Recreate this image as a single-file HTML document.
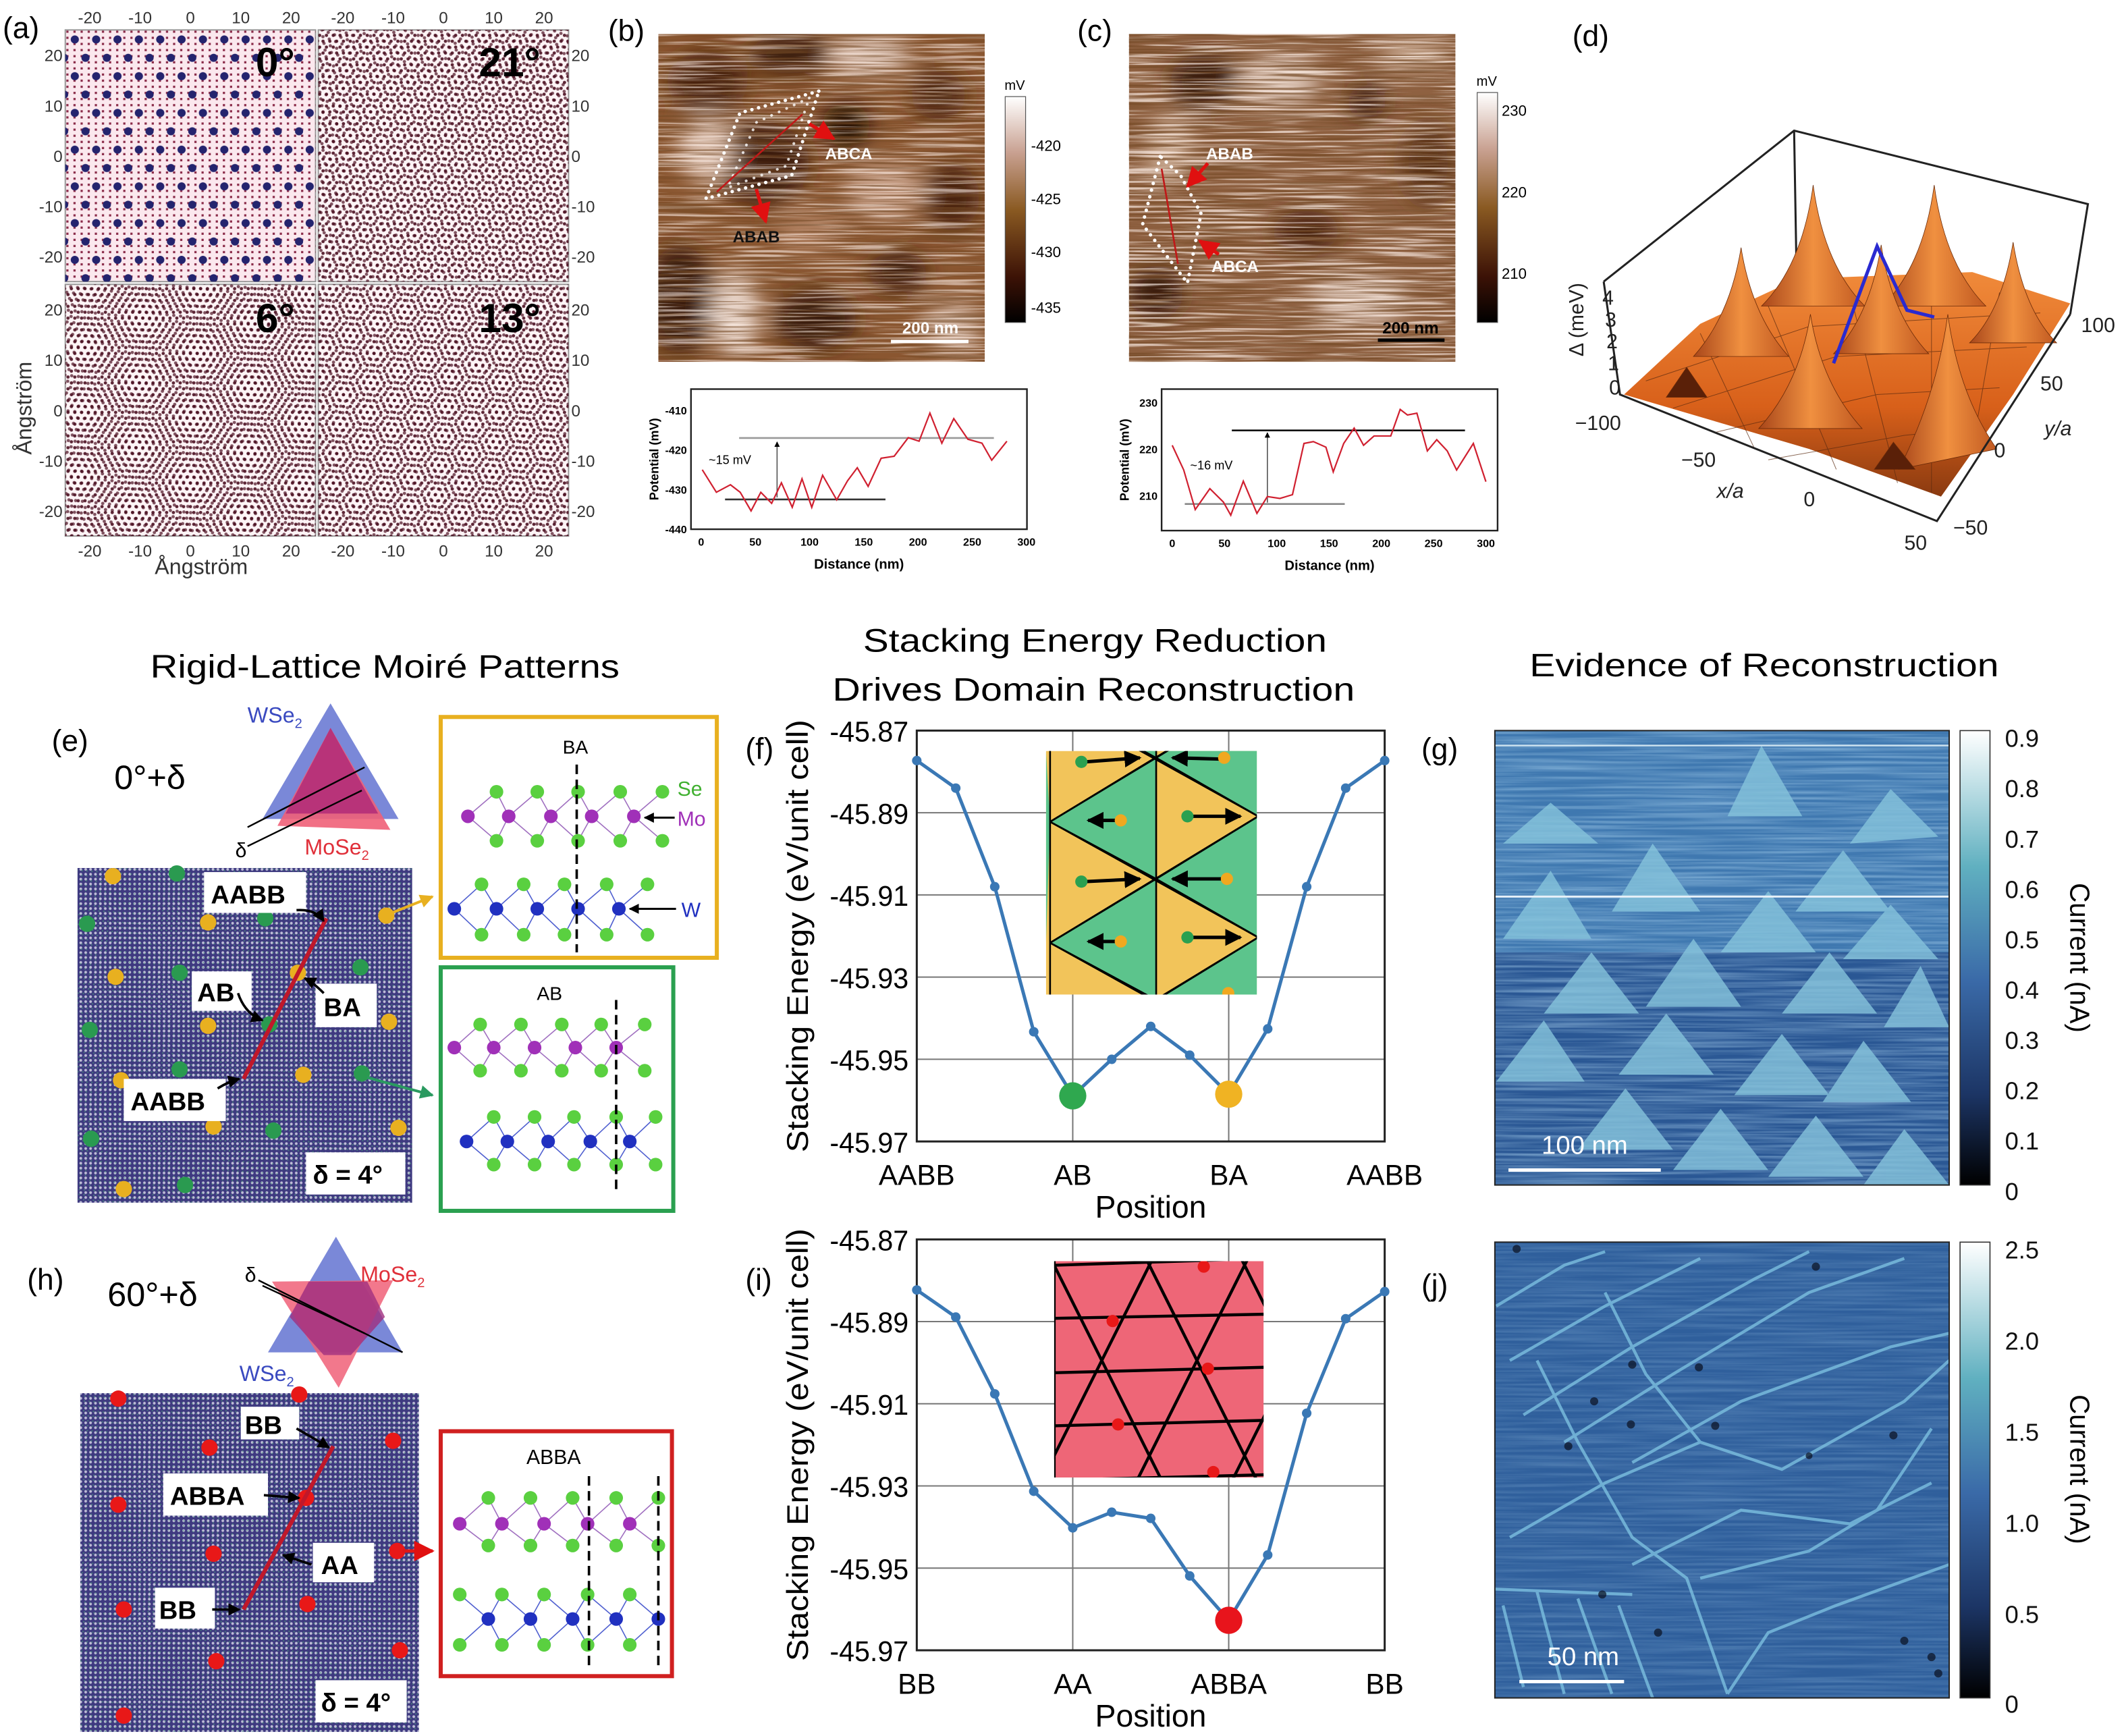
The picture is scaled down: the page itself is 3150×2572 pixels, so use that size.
<!DOCTYPE html>
<html><head><meta charset="utf-8"><title>Moiré reconstruction figure</title>
<style>
html,body{margin:0;padding:0;background:#fff;}
svg{display:block;}
text{font-family:"Liberation Sans",Arial,sans-serif;}
</style></head>
<body>
<svg id="fig" xmlns="http://www.w3.org/2000/svg" width="3150" height="2572" viewBox="0 0 1563 1276" preserveAspectRatio="none" font-family="Liberation Sans, Arial, sans-serif">
<defs>
  <pattern id="p0blue" width="15.7" height="27" patternUnits="userSpaceOnUse" x="55" y="29">
    <circle cx="0" cy="0" r="3" fill="#24246e"/><circle cx="15.7" cy="0" r="3" fill="#24246e"/>
    <circle cx="7.85" cy="13.5" r="3" fill="#24246e"/><circle cx="0" cy="27" r="3" fill="#24246e"/><circle cx="15.7" cy="27" r="3" fill="#24246e"/>
  </pattern>
  <pattern id="p0small" width="5.23" height="4.5" patternUnits="userSpaceOnUse" x="53" y="26">
    <rect x="1" y="1" width="1.6" height="1.6" fill="#8a2a48"/>
  </pattern>
  <pattern id="hexA" width="5" height="8.66" patternUnits="userSpaceOnUse">
    <circle cx="0" cy="0" r="1.2" fill="#4a0e20"/><circle cx="5" cy="0" r="1.2" fill="#4a0e20"/>
    <circle cx="2.5" cy="4.33" r="1.2" fill="#4a0e20"/><circle cx="0" cy="8.66" r="1.2" fill="#4a0e20"/><circle cx="5" cy="8.66" r="1.2" fill="#4a0e20"/>
  </pattern>
  <pattern id="hexB21" href="#hexA" patternTransform="rotate(21) translate(1.3 0.7)"/>
  <pattern id="hexB6" href="#hexA" patternTransform="rotate(6) translate(1.3 0.7)"/>
  <pattern id="hexB13" href="#hexA" patternTransform="rotate(13) translate(1.3 0.7)"/>
  <pattern id="atoms" width="3.6" height="3.6" patternUnits="userSpaceOnUse">
    <circle cx="1.8" cy="1.8" r="1.0" fill="#e8e8f4"/>
  </pattern>
  <pattern id="atoms2" width="3.6" height="3.6" patternUnits="userSpaceOnUse" patternTransform="rotate(4)">
    <circle cx="0.5" cy="0.5" r="0.6" fill="#4a9a7a" opacity="0.6"/>
  </pattern>
  <filter id="blur8" x="-50%" y="-50%" width="200%" height="200%"><feGaussianBlur stdDeviation="8"/></filter>
  <filter id="streakLight" x="0" y="0" width="1" height="1">
    <feTurbulence type="fractalNoise" baseFrequency="0.015 0.6" numOctaves="2" seed="5"/>
    <feColorMatrix type="matrix" values="0 0 0 0 1  0 0 0 0 0.88  0 0 0 0 0.82  5 0 0 0 -2.4"/>
  </filter>
  <filter id="streakDark" x="0" y="0" width="1" height="1">
    <feTurbulence type="fractalNoise" baseFrequency="0.015 0.6" numOctaves="2" seed="11"/>
    <feColorMatrix type="matrix" values="0 0 0 0 0.18  0 0 0 0 0.07  0 0 0 0 0.02  -5 0 0 0 2.6"/>
  </filter>
  <filter id="blueNoise" x="0" y="0" width="1" height="1">
    <feTurbulence type="fractalNoise" baseFrequency="0.01 0.5" numOctaves="2" seed="3" result="t"/>
    <feColorMatrix in="t" type="matrix" values="0 0 0 0 0.45  0 0 0 0 0.7  0 0 0 0 0.9  0 0 0 0.9 -0.3"/>
  </filter>
  <linearGradient id="cbBrown" x1="0" y1="1" x2="0" y2="0">
    <stop offset="0" stop-color="#000"/><stop offset="0.2" stop-color="#3c1206"/><stop offset="0.5" stop-color="#8a5a22"/><stop offset="0.75" stop-color="#c8a090"/><stop offset="1" stop-color="#fff"/>
  </linearGradient>
  <linearGradient id="cbBlue" x1="0" y1="1" x2="0" y2="0">
    <stop offset="0" stop-color="#000"/><stop offset="0.2" stop-color="#1c3565"/><stop offset="0.45" stop-color="#3a6aa8"/><stop offset="0.7" stop-color="#60b0c0"/><stop offset="1" stop-color="#fff"/>
  </linearGradient>
  <linearGradient id="orangeG" x1="0" y1="0" x2="0" y2="1">
    <stop offset="0" stop-color="#f08a3a"/><stop offset="0.6" stop-color="#d8601a"/><stop offset="1" stop-color="#8a3a10"/>
  </linearGradient>
  <linearGradient id="peakG" x1="0" y1="0" x2="1" y2="0">
    <stop offset="0" stop-color="#a8461a"/><stop offset="0.5" stop-color="#f09040"/><stop offset="1" stop-color="#c05820"/>
  </linearGradient>
  <marker id="arrK" viewBox="0 0 10 10" refX="9" refY="5" markerWidth="5" markerHeight="5" orient="auto"><path d="M0 0L10 5L0 10z" fill="#000"/></marker>
  <marker id="arrR" viewBox="0 0 10 10" refX="9" refY="5" markerWidth="6" markerHeight="6" orient="auto"><path d="M0 0L10 5L0 10z" fill="#e01010"/></marker>
  <marker id="arrY" viewBox="0 0 10 10" refX="9" refY="5" markerWidth="5" markerHeight="5" orient="auto"><path d="M0 0L10 5L0 10z" fill="#e8b020"/></marker>
  <marker id="arrG" viewBox="0 0 10 10" refX="9" refY="5" markerWidth="5" markerHeight="5" orient="auto"><path d="M0 0L10 5L0 10z" fill="#2a9a60"/></marker>
  <clipPath id="clipB"><rect x="484" y="25" width="240" height="241"/></clipPath>
  <clipPath id="clipC"><rect x="830" y="25" width="240" height="241"/></clipPath>
  <clipPath id="clipFin"><rect x="769" y="552" width="155" height="179"/></clipPath>
  <clipPath id="clipIin"><rect x="775" y="927" width="154" height="159"/></clipPath>
  <clipPath id="clipG"><rect x="1099" y="537" width="334" height="334"/></clipPath>
  <clipPath id="clipJ"><rect x="1099" y="913" width="334" height="335"/></clipPath>
</defs>

<!-- ================= (a) ================= -->
<g>
  <text x="2" y="28" font-size="22">(a)</text>
  <g>
    <rect x="48" y="22" width="184" height="185" fill="#fbe8ee" stroke="#999" stroke-width="1"/>
    <rect x="48" y="22" width="184" height="185" fill="url(#p0small)"/>
    <rect x="48" y="22" width="184" height="185" fill="url(#p0blue)"/>
    <text x="188" y="56" font-size="30" font-weight="bold">0°</text>
  </g>
  <g>
    <rect x="234" y="22" width="184" height="185" fill="#fdf4f6" stroke="#999" stroke-width="1"/>
    <rect x="234" y="22" width="184" height="185" fill="url(#hexA)" opacity="0.9"/>
    <rect x="234" y="22" width="184" height="185" fill="url(#hexB21)" opacity="0.7"/>
    <text x="352" y="56" font-size="30" font-weight="bold">21°</text>
  </g>
  <g>
    <rect x="48" y="209" width="184" height="185" fill="#fdf4f6" stroke="#999" stroke-width="1"/>
    <rect x="48" y="209" width="184" height="185" fill="url(#hexA)" opacity="0.9"/>
    <rect x="48" y="209" width="184" height="185" fill="url(#hexB6)" opacity="0.7"/>
    <text x="188" y="244" font-size="30" font-weight="bold">6°</text>
  </g>
  <g>
    <rect x="234" y="209" width="184" height="185" fill="#fdf4f6" stroke="#999" stroke-width="1"/>
    <rect x="234" y="209" width="184" height="185" fill="url(#hexA)" opacity="0.9"/>
    <rect x="234" y="209" width="184" height="185" fill="url(#hexB13)" opacity="0.7"/>
    <text x="352" y="244" font-size="30" font-weight="bold">13°</text>
  </g>
  <g font-size="12" fill="#333" font-family="Liberation Serif, serif">
    <g text-anchor="middle">
      <text x="66" y="17" font-family="Liberation Serif, serif">-20</text><text x="103" y="17" font-family="Liberation Serif, serif">-10</text><text x="140" y="17" font-family="Liberation Serif, serif">0</text><text x="177" y="17" font-family="Liberation Serif, serif">10</text><text x="214" y="17" font-family="Liberation Serif, serif">20</text>
      <text x="252" y="17" font-family="Liberation Serif, serif">-20</text><text x="289" y="17" font-family="Liberation Serif, serif">-10</text><text x="326" y="17" font-family="Liberation Serif, serif">0</text><text x="363" y="17" font-family="Liberation Serif, serif">10</text><text x="400" y="17" font-family="Liberation Serif, serif">20</text>
      <text x="66" y="409" font-family="Liberation Serif, serif">-20</text><text x="103" y="409" font-family="Liberation Serif, serif">-10</text><text x="140" y="409" font-family="Liberation Serif, serif">0</text><text x="177" y="409" font-family="Liberation Serif, serif">10</text><text x="214" y="409" font-family="Liberation Serif, serif">20</text>
      <text x="252" y="409" font-family="Liberation Serif, serif">-20</text><text x="289" y="409" font-family="Liberation Serif, serif">-10</text><text x="326" y="409" font-family="Liberation Serif, serif">0</text><text x="363" y="409" font-family="Liberation Serif, serif">10</text><text x="400" y="409" font-family="Liberation Serif, serif">20</text>
    </g>
    <g text-anchor="end">
      <text x="46" y="45" font-family="Liberation Serif, serif">20</text><text x="46" y="82" font-family="Liberation Serif, serif">10</text><text x="46" y="119" font-family="Liberation Serif, serif">0</text><text x="46" y="156" font-family="Liberation Serif, serif">-10</text><text x="46" y="193" font-family="Liberation Serif, serif">-20</text>
      <text x="46" y="232" font-family="Liberation Serif, serif">20</text><text x="46" y="269" font-family="Liberation Serif, serif">10</text><text x="46" y="306" font-family="Liberation Serif, serif">0</text><text x="46" y="343" font-family="Liberation Serif, serif">-10</text><text x="46" y="380" font-family="Liberation Serif, serif">-20</text>
    </g>
    <g text-anchor="start">
      <text x="420" y="45" font-family="Liberation Serif, serif">20</text><text x="420" y="82" font-family="Liberation Serif, serif">10</text><text x="420" y="119" font-family="Liberation Serif, serif">0</text><text x="420" y="156" font-family="Liberation Serif, serif">-10</text><text x="420" y="193" font-family="Liberation Serif, serif">-20</text>
      <text x="420" y="232" font-family="Liberation Serif, serif">20</text><text x="420" y="269" font-family="Liberation Serif, serif">10</text><text x="420" y="306" font-family="Liberation Serif, serif">0</text><text x="420" y="343" font-family="Liberation Serif, serif">-10</text><text x="420" y="380" font-family="Liberation Serif, serif">-20</text>
    </g>
  </g>
  <text x="148" y="422" font-size="16" text-anchor="middle" fill="#333">Ångström</text>
  <text transform="translate(23,300) rotate(-90)" font-size="16" text-anchor="middle" fill="#333">Ångström</text>
</g>

<!-- ================= (b) ================= -->
<g>
  <text x="447" y="30" font-size="22">(b)</text>
  <g clip-path="url(#clipB)">
    <rect x="484" y="25" width="240" height="241" fill="#8a5630"/>
    <g filter="url(#blur8)">
      <ellipse cx="520" cy="60" rx="30" ry="22" fill="#4a2410"/>
      <ellipse cx="580" cy="40" rx="30" ry="14" fill="#3a1a08"/>
      <ellipse cx="560" cy="120" rx="35" ry="30" fill="#3e1c0a"/>
      <ellipse cx="622" cy="92" rx="18" ry="16" fill="#220c04"/>
      <ellipse cx="500" cy="220" rx="25" ry="40" fill="#3a1a08"/>
      <ellipse cx="600" cy="235" rx="30" ry="22" fill="#3a1a08"/>
      <ellipse cx="660" cy="200" rx="22" ry="15" fill="#3e1c0a"/>
      <ellipse cx="700" cy="145" rx="20" ry="25" fill="#4a2410"/>
      <ellipse cx="690" cy="70" rx="20" ry="18" fill="#4a2410"/>
      <ellipse cx="640" cy="40" rx="30" ry="12" fill="#e6d0c4"/>
      <ellipse cx="520" cy="110" rx="20" ry="25" fill="#d8bcaa"/>
      <ellipse cx="540" cy="230" rx="18" ry="30" fill="#e8d4c8"/>
      <ellipse cx="650" cy="140" rx="30" ry="20" fill="#c8a088"/>
      <ellipse cx="700" cy="240" rx="20" ry="18" fill="#d8bcaa"/>
      <ellipse cx="595" cy="170" rx="25" ry="15" fill="#b08060"/>
    </g>
    <rect x="484" y="25" width="240" height="241" filter="url(#streakLight)" opacity="0.6"/>
    <rect x="484" y="25" width="240" height="241" filter="url(#streakDark)" opacity="0.6"/>
  </g>
  <g>
    <polygon points="602,67 544,83 519,146 582,129" fill="none" stroke="#fff" stroke-width="2.5" stroke-dasharray="0.1 5" stroke-linecap="round"/>
    <polygon points="595,72 556,90 535,138 578,122" fill="none" stroke="#fff" stroke-width="2" stroke-dasharray="0.1 6" stroke-linecap="round" opacity="0.8"/>
    <line x1="590" y1="84" x2="527" y2="141" stroke="#c01818" stroke-width="1.3"/>
    <line x1="595" y1="91" x2="613" y2="102" stroke="#e01010" stroke-width="2.5" marker-end="url(#arrR)"/>
    <line x1="556" y1="139" x2="563" y2="163" stroke="#e01010" stroke-width="2.5" marker-end="url(#arrR)"/>
    <text x="624" y="117" font-size="12" font-weight="bold" fill="#fff" text-anchor="middle">ABCA</text>
    <text x="556" y="178" font-size="12" font-weight="bold" fill="#111" text-anchor="middle">ABAB</text>
    <line x1="655" y1="251" x2="712" y2="251" stroke="#fff" stroke-width="2.5"/>
    <text x="684" y="245" font-size="12" font-weight="bold" fill="#fff" text-anchor="middle">200 nm</text>
  </g>
  <g>
    <rect x="739" y="71" width="15" height="166" fill="url(#cbBrown)" stroke="#555" stroke-width="0.6"/>
    <text x="746" y="66" font-size="10" text-anchor="middle">mV</text>
    <g font-size="11"><text x="758" y="111">-420</text><text x="758" y="150">-425</text><text x="758" y="189">-430</text><text x="758" y="230">-435</text></g>
  </g>
  <g id="plotB"></g>
</g>

<!-- ================= (c) ================= -->
<g>
  <text x="792" y="30" font-size="22">(c)</text>
  <g clip-path="url(#clipC)">
    <rect x="830" y="25" width="240" height="241" fill="#8e6040"/>
    <g filter="url(#blur8)">
      <ellipse cx="885" cy="60" rx="25" ry="20" fill="#3a1a08"/>
      <ellipse cx="1005" cy="75" rx="15" ry="12" fill="#3a1a08"/>
      <ellipse cx="850" cy="215" rx="20" ry="20" fill="#3a1a08"/>
      <ellipse cx="960" cy="170" rx="25" ry="15" fill="#4a2410"/>
      <ellipse cx="1050" cy="120" rx="20" ry="30" fill="#5a3018"/>
      <ellipse cx="940" cy="60" rx="30" ry="18" fill="#d8c0b0"/>
      <ellipse cx="1000" cy="220" rx="35" ry="18" fill="#d8c0b0"/>
      <ellipse cx="860" cy="110" rx="18" ry="25" fill="#c8a890"/>
      <ellipse cx="1040" cy="40" rx="25" ry="12" fill="#c8a890"/>
    </g>
    <rect x="830" y="25" width="240" height="241" filter="url(#streakLight)" opacity="0.7"/>
    <rect x="830" y="25" width="240" height="241" filter="url(#streakDark)" opacity="0.7"/>
  </g>
  <g>
    <polygon points="853,115 840,165 873,208 883,157 868,129" fill="none" stroke="#fff" stroke-width="2.5" stroke-dasharray="0.1 5" stroke-linecap="round"/>
    <line x1="854" y1="124" x2="866" y2="194" stroke="#c01818" stroke-width="1.3"/>
    <line x1="888" y1="120" x2="873" y2="137" stroke="#e01010" stroke-width="2.5" marker-end="url(#arrR)"/>
    <line x1="896" y1="187" x2="882" y2="177" stroke="#e01010" stroke-width="2.5" marker-end="url(#arrR)"/>
    <text x="904" y="117" font-size="12" font-weight="bold" fill="#fff" text-anchor="middle">ABAB</text>
    <text x="908" y="200" font-size="12" font-weight="bold" fill="#fff" text-anchor="middle">ABCA</text>
    <line x1="1013" y1="250" x2="1062" y2="250" stroke="#000" stroke-width="2.5"/>
    <text x="1037" y="245" font-size="12" font-weight="bold" fill="#000" text-anchor="middle">200 nm</text>
  </g>
  <g>
    <rect x="1086" y="68" width="15" height="169" fill="url(#cbBrown)" stroke="#555" stroke-width="0.6"/>
    <text x="1093" y="63" font-size="10" text-anchor="middle">mV</text>
    <g font-size="11"><text x="1104" y="85">230</text><text x="1104" y="145">220</text><text x="1104" y="205">210</text></g>
  </g>
  <g id="plotC"></g>
</g>

<!-- ================= (d) ================= -->
<g>
  <text x="1156" y="34" font-size="22">(d)</text>
  <g>
    <polyline points="1321,212 1319,96" fill="none" stroke="#222" stroke-width="1.5"/>
    <polygon points="1194,290 1250,238 1321,205 1450,200 1522,223 1480,290 1427,365 1330,330" fill="url(#orangeG)"/>
    <g stroke="#5a2a10" stroke-width="0.5" fill="none" opacity="0.7">
      <path d="M1210,280 L1330,240 L1500,230"/><path d="M1230,300 L1350,262 L1490,255"/><path d="M1260,318 L1380,290 L1470,285"/><path d="M1300,338 L1400,320 L1450,315"/>
      <path d="M1250,245 L1290,330"/><path d="M1300,225 L1350,345"/><path d="M1360,215 L1395,355"/><path d="M1420,210 L1420,362"/><path d="M1470,215 L1450,330"/>
    </g>
    <g fill="url(#peakG)" stroke="#6a2a08" stroke-width="0.4">
      <path d="M1333,136 Q1325,195 1295,225 L1371,225 Q1341,195 1333,136z"/>
      <path d="M1422,136 Q1414,195 1384,225 L1460,225 Q1430,195 1422,136z"/>
      <path d="M1280,182 Q1272,232 1245,262 L1315,262 Q1288,232 1280,182z"/>
      <path d="M1383,180 Q1375,232 1348,260 L1418,260 Q1391,232 1383,180z"/>
      <path d="M1480,178 Q1472,228 1448,252 L1512,252 Q1488,228 1480,178z"/>
      <path d="M1331,231 Q1323,282 1293,315 L1369,315 Q1339,282 1331,231z"/>
      <path d="M1432,231 Q1424,290 1396,345 L1468,330 Q1440,290 1432,231z"/>
      <path d="M1240,270 L1225,292 L1255,292z" fill="#5a2008"/>
      <path d="M1392,325 L1378,345 L1408,345z" fill="#5a2008"/>
    </g>
    <polyline points="1348,267 1380,181 1402,228 1422,233" fill="none" stroke="#2a2ad0" stroke-width="2.5"/>
    <g fill="none" stroke="#222" stroke-width="1.5">
      <polyline points="1179,207 1319,96 1535,150 1522,231"/>
      <polyline points="1179,207 1191,290 1424,383 1522,231"/>
    </g>
  </g>
  <g font-family="Liberation Serif, serif" font-size="15" fill="#222">
    <text transform="translate(1164,262) rotate(-90)" font-size="15" font-family="Liberation Serif, serif">Δ (meV)</text>
    <text x="1178" y="224" font-family="Liberation Serif, serif">4</text><text x="1180" y="240" font-family="Liberation Serif, serif">3</text><text x="1181" y="256" font-family="Liberation Serif, serif">2</text><text x="1182" y="272" font-family="Liberation Serif, serif">1</text><text x="1183" y="290" font-family="Liberation Serif, serif">0</text>
    <text x="1158" y="316" font-family="Liberation Serif, serif">−100</text><text x="1236" y="343" font-family="Liberation Serif, serif">−50</text><text x="1326" y="372" font-family="Liberation Serif, serif">0</text><text x="1400" y="404" font-family="Liberation Serif, serif">50</text>
    <text x="1262" y="366" font-style="italic" font-family="Liberation Serif, serif">x/a</text>
    <text x="1436" y="393" font-family="Liberation Serif, serif">−50</text><text x="1466" y="336" font-family="Liberation Serif, serif">0</text><text x="1500" y="287" font-family="Liberation Serif, serif">50</text><text x="1530" y="244" font-family="Liberation Serif, serif">100</text>
    <text x="1503" y="320" font-style="italic" font-family="Liberation Serif, serif">y/a</text>
  </g>
</g>

<!-- ================= Titles ================= -->
<text x="283" y="498" font-size="24" text-anchor="middle" textLength="345" lengthAdjust="spacingAndGlyphs">Rigid-Lattice Moiré Patterns</text>
<text x="805" y="479" font-size="24" text-anchor="middle" textLength="341" lengthAdjust="spacingAndGlyphs">Stacking Energy Reduction</text>
<text x="804" y="515" font-size="24" text-anchor="middle" textLength="384" lengthAdjust="spacingAndGlyphs">Drives Domain Reconstruction</text>
<text x="1297" y="497" font-size="24" text-anchor="middle" textLength="345" lengthAdjust="spacingAndGlyphs">Evidence of Reconstruction</text>

<!-- ================= (e) ================= -->
<g>
  <text x="38" y="552" font-size="22">(e)</text>
  <text x="84" y="580" font-size="25">0°+δ</text>
  <g>
    <polygon points="243,517 193,602 293,602" fill="#7a88d8"/>
    <polygon points="243,535 204,607 287,610" fill="#f06078" opacity="0.9"/>
    <polygon points="243,535 210,598 278,598" fill="#b02a78" opacity="0.85"/>
    <line x1="182" y1="622" x2="266" y2="581" stroke="#000" stroke-width="1.2"/>
    <line x1="182" y1="608" x2="268" y2="564" stroke="#000" stroke-width="1.2"/>
    <text x="182" y="531" font-size="16" fill="#3a4ac0">WSe<tspan font-size="10" dy="4">2</tspan></text>
    <text x="224" y="628" font-size="16" fill="#e0303a">MoSe<tspan font-size="10" dy="4">2</tspan></text>
    <text x="173" y="630" font-size="15">δ</text>
  </g>
  <g>
    <rect x="57" y="638" width="246" height="246" fill="#3e3a80"/>
    <rect x="57" y="638" width="246" height="246" fill="url(#atoms)" opacity="0.75"/>
    <rect x="57" y="638" width="246" height="246" fill="url(#atoms2)"/>
    <g fill="#e8b020">
      <circle cx="83" cy="644" r="6"/><circle cx="153" cy="678" r="6"/><circle cx="85" cy="718" r="6"/><circle cx="219" cy="715" r="6"/><circle cx="153" cy="754" r="6"/><circle cx="286" cy="751" r="6"/><circle cx="284" cy="673" r="6"/><circle cx="89" cy="794" r="6"/><circle cx="223" cy="790" r="6"/><circle cx="157" cy="828" r="6"/><circle cx="293" cy="829" r="6"/><circle cx="91" cy="874" r="6"/>
    </g>
    <g fill="#2a9a50">
      <circle cx="130" cy="642" r="6"/><circle cx="64" cy="679" r="6"/><circle cx="195" cy="675" r="6"/><circle cx="132" cy="715" r="6"/><circle cx="265" cy="711" r="6"/><circle cx="198" cy="753" r="6"/><circle cx="66" cy="757" r="6"/><circle cx="132" cy="786" r="6"/><circle cx="266" cy="789" r="6"/><circle cx="67" cy="837" r="6"/><circle cx="201" cy="831" r="6"/><circle cx="136" cy="871" r="6"/>
    </g>
    <line x1="179" y1="793" x2="240" y2="675" stroke="#c0182a" stroke-width="3"/>
    <g font-size="19" font-weight="bold">
      <rect x="150" y="641" width="75" height="30" fill="#fff"/><text x="155" y="664">AABB</text>
      <rect x="141" y="714" width="44" height="29" fill="#fff"/><text x="145" y="736">AB</text>
      <rect x="232" y="723" width="45" height="32" fill="#fff"/><text x="238" y="747">BA</text>
      <rect x="91" y="793" width="75" height="31" fill="#fff"/><text x="96" y="816">AABB</text>
      <rect x="225" y="847" width="73" height="31" fill="#fff"/><text x="230" y="870">δ = 4°</text>
    </g>
    <g stroke="#000" stroke-width="1.8" fill="none">
      <path d="M218,669 Q232,668 238,677" marker-end="url(#arrK)"/>
      <path d="M175,730 Q180,745 193,750" marker-end="url(#arrK)"/>
      <path d="M238,730 Q230,722 224,719" marker-end="url(#arrK)"/>
      <path d="M160,800 Q168,795 176,793" marker-end="url(#arrK)"/>
    </g>
    <line x1="288" y1="671" x2="318" y2="659" stroke="#e8b020" stroke-width="2" marker-end="url(#arrY)"/>
    <line x1="270" y1="792" x2="318" y2="805" stroke="#2a9a60" stroke-width="2" marker-end="url(#arrG)"/>
  </g>
  <g>
    <rect x="324" y="527" width="203" height="177" fill="#fff" stroke="#e8b020" stroke-width="3"/>
    <text x="423" y="554" font-size="14" text-anchor="middle">BA</text>
    <g stroke="#a070c0" stroke-width="0.8" fill="none">
      <path d="M344,600 L365,582 L374,600 L395,582 L405,600 L425,582 L435,600 L456,582 L466,600 L487,582"/>
      <path d="M344,600 L365,618 L374,600 L395,618 L405,600 L425,618 L435,600 L456,618 L466,600 L487,618"/>
      <path d="M334,668 L354,650 L365,668 L385,650 L395,668 L415,650 L425,668 L446,650 L455,668 L476,650" stroke="#5060d0"/>
      <path d="M334,668 L354,687 L365,668 L385,687 L395,668 L415,687 L425,668 L446,687 L455,668 L476,687" stroke="#5060d0"/>
    </g>
    <g fill="#5ad040"><circle cx="365" cy="582" r="5"/><circle cx="395" cy="582" r="5"/><circle cx="425" cy="582" r="5"/><circle cx="456" cy="582" r="5"/><circle cx="487" cy="582" r="5"/>
      <circle cx="365" cy="618" r="5"/><circle cx="395" cy="618" r="5"/><circle cx="425" cy="618" r="5"/><circle cx="456" cy="618" r="5"/><circle cx="487" cy="618" r="5"/>
      <circle cx="354" cy="650" r="5"/><circle cx="385" cy="650" r="5"/><circle cx="415" cy="650" r="5"/><circle cx="446" cy="650" r="5"/><circle cx="476" cy="650" r="5"/>
      <circle cx="354" cy="687" r="5"/><circle cx="385" cy="687" r="5"/><circle cx="415" cy="687" r="5"/><circle cx="446" cy="687" r="5"/><circle cx="476" cy="687" r="5"/></g>
    <g fill="#a030b8"><circle cx="344" cy="600" r="5"/><circle cx="374" cy="600" r="5"/><circle cx="405" cy="600" r="5"/><circle cx="435" cy="600" r="5"/><circle cx="466" cy="600" r="5"/></g>
    <g fill="#2030c0"><circle cx="334" cy="668" r="5"/><circle cx="365" cy="668" r="5"/><circle cx="395" cy="668" r="5"/><circle cx="425" cy="668" r="5"/><circle cx="455" cy="668" r="5"/></g>
    <line x1="424" y1="562" x2="424" y2="700" stroke="#000" stroke-width="1.8" stroke-dasharray="7 4"/>
    <text x="498" y="585" font-size="15" fill="#40b030">Se</text>
    <text x="498" y="607" font-size="15" fill="#a030b8">Mo</text>
    <line x1="496" y1="601" x2="474" y2="601" stroke="#000" stroke-width="1.5" marker-end="url(#arrK)"/>
    <text x="501" y="674" font-size="15" fill="#2030c0">W</text>
    <line x1="497" y1="668" x2="463" y2="668" stroke="#000" stroke-width="1.5" marker-end="url(#arrK)"/>
  </g>
  <g>
    <rect x="324" y="711" width="171" height="179" fill="#fff" stroke="#2aa050" stroke-width="3"/>
    <text x="404" y="735" font-size="14" text-anchor="middle">AB</text>
    <g stroke="#a070c0" stroke-width="0.8" fill="none">
      <path d="M334,770 L353,753 L363,770 L383,753 L393,770 L413,753 L423,770 L442,753 L453,770 L474,753"/>
      <path d="M334,770 L353,787 L363,770 L383,787 L393,770 L413,787 L423,770 L442,787 L453,770 L474,787"/>
      <path d="M343,839 L363,821 L373,839 L393,821 L403,839 L422,821 L434,839 L453,821 L463,839 L482,821" stroke="#5060d0"/>
      <path d="M343,839 L363,856 L373,839 L393,856 L403,839 L422,856 L434,839 L453,856 L463,839 L482,856" stroke="#5060d0"/>
    </g>
    <g fill="#5ad040"><circle cx="353" cy="753" r="5"/><circle cx="383" cy="753" r="5"/><circle cx="413" cy="753" r="5"/><circle cx="442" cy="753" r="5"/><circle cx="474" cy="753" r="5"/>
      <circle cx="353" cy="787" r="5"/><circle cx="383" cy="787" r="5"/><circle cx="413" cy="787" r="5"/><circle cx="442" cy="787" r="5"/><circle cx="474" cy="787" r="5"/>
      <circle cx="363" cy="821" r="5"/><circle cx="393" cy="821" r="5"/><circle cx="422" cy="821" r="5"/><circle cx="453" cy="821" r="5"/><circle cx="482" cy="821" r="5"/>
      <circle cx="363" cy="856" r="5"/><circle cx="393" cy="856" r="5"/><circle cx="422" cy="856" r="5"/><circle cx="453" cy="856" r="5"/><circle cx="482" cy="856" r="5"/></g>
    <g fill="#a030b8"><circle cx="334" cy="770" r="5"/><circle cx="363" cy="770" r="5"/><circle cx="393" cy="770" r="5"/><circle cx="423" cy="770" r="5"/><circle cx="453" cy="770" r="5"/></g>
    <g fill="#2030c0"><circle cx="343" cy="839" r="5"/><circle cx="373" cy="839" r="5"/><circle cx="403" cy="839" r="5"/><circle cx="434" cy="839" r="5"/><circle cx="463" cy="839" r="5"/></g>
    <line x1="453" y1="735" x2="453" y2="875" stroke="#000" stroke-width="1.8" stroke-dasharray="7 4"/>
  </g>
</g>

<!-- ================= (h) ================= -->
<g>
  <text x="20" y="948" font-size="22">(h)</text>
  <text x="79" y="960" font-size="25">60°+δ</text>
  <g>
    <polygon points="247,909 197,994 296,994" fill="#7a88d8"/>
    <polygon points="200,942 289,941 249,1020" fill="#f06078" opacity="0.85"/>
    <polygon points="227,942 270,942 283,968 258,996 238,996 213,968" fill="#a03080" opacity="0.8"/>
    <line x1="190" y1="941" x2="296" y2="994" stroke="#000" stroke-width="1.2"/>
    <line x1="193" y1="945" x2="268" y2="980" stroke="#000" stroke-width="1.2"/>
    <text x="265" y="942" font-size="16" fill="#e0303a">MoSe<tspan font-size="10" dy="4">2</tspan></text>
    <text x="176" y="1015" font-size="16" fill="#3a4ac0">WSe<tspan font-size="10" dy="4">2</tspan></text>
    <text x="180" y="942" font-size="15">δ</text>
  </g>
  <g>
    <rect x="59" y="1024" width="249" height="249" fill="#3e3a80"/>
    <rect x="59" y="1024" width="249" height="249" fill="url(#atoms)" opacity="0.75"/>
    <rect x="59" y="1024" width="249" height="249" fill="url(#atoms2)"/>
    <g fill="#e81818">
      <circle cx="87" cy="1028" r="6"/><circle cx="220" cy="1025" r="6"/><circle cx="154" cy="1064" r="6"/><circle cx="289" cy="1059" r="6"/><circle cx="87" cy="1106" r="6"/><circle cx="225" cy="1101" r="6"/><circle cx="157" cy="1142" r="6"/><circle cx="292" cy="1140" r="6"/><circle cx="91" cy="1183" r="6"/><circle cx="226" cy="1179" r="6"/><circle cx="159" cy="1221" r="6"/><circle cx="294" cy="1213" r="6"/><circle cx="91" cy="1261" r="6"/>
    </g>
    <line x1="179" y1="1183" x2="245" y2="1063" stroke="#c0182a" stroke-width="3"/>
    <g font-size="19" font-weight="bold">
      <rect x="177" y="1034" width="43" height="24" fill="#fff"/><text x="180" y="1054">BB</text>
      <rect x="120" y="1083" width="77" height="31" fill="#fff"/><text x="125" y="1106">ABBA</text>
      <rect x="230" y="1134" width="45" height="29" fill="#fff"/><text x="236" y="1157">AA</text>
      <rect x="114" y="1167" width="44" height="30" fill="#fff"/><text x="117" y="1190">BB</text>
      <rect x="232" y="1235" width="67" height="31" fill="#fff"/><text x="236" y="1258">δ = 4°</text>
    </g>
    <g stroke="#000" stroke-width="1.8" fill="none">
      <path d="M218,1050 Q232,1058 242,1064" marker-end="url(#arrK)"/>
      <line x1="194" y1="1099" x2="220" y2="1101" marker-end="url(#arrK)"/>
      <line x1="229" y1="1150" x2="208" y2="1143" marker-end="url(#arrK)"/>
      <line x1="156" y1="1183" x2="176" y2="1183" marker-end="url(#arrK)"/>
    </g>
    <line x1="296" y1="1140" x2="318" y2="1140" stroke="#e01818" stroke-width="2.5" marker-end="url(#arrR)"/>
  </g>
  <g>
    <rect x="324" y="1052" width="170" height="180" fill="#fff" stroke="#d02020" stroke-width="3"/>
    <text x="407" y="1076" font-size="15" text-anchor="middle">ABBA</text>
    <g stroke="#a070c0" stroke-width="0.8" fill="none">
      <path d="M338,1120 L359,1101 L369,1120 L390,1101 L400,1120 L421,1101 L432,1120 L453,1101 L463,1120 L484,1101"/>
      <path d="M338,1120 L359,1136 L369,1120 L390,1136 L400,1120 L421,1136 L432,1120 L453,1136 L463,1120 L484,1136"/>
      <path d="M338,1172 L359,1190 L369,1172 L390,1190 L400,1172 L421,1190 L432,1172 L453,1190 L463,1172 L484,1190" stroke="#5060d0"/>
      <path d="M338,1209 L359,1190 L369,1209 L390,1190 L400,1209 L421,1190 L432,1209 L453,1190 L463,1209 L484,1190" stroke="#5060d0"/>
    </g>
    <g fill="#5ad040"><circle cx="359" cy="1101" r="5"/><circle cx="390" cy="1101" r="5"/><circle cx="421" cy="1101" r="5"/><circle cx="453" cy="1101" r="5"/><circle cx="484" cy="1101" r="5"/>
      <circle cx="359" cy="1136" r="5"/><circle cx="390" cy="1136" r="5"/><circle cx="421" cy="1136" r="5"/><circle cx="453" cy="1136" r="5"/><circle cx="484" cy="1136" r="5"/>
      <circle cx="338" cy="1172" r="5"/><circle cx="369" cy="1172" r="5"/><circle cx="400" cy="1172" r="5"/><circle cx="432" cy="1172" r="5"/><circle cx="463" cy="1172" r="5"/>
      <circle cx="338" cy="1209" r="5"/><circle cx="369" cy="1209" r="5"/><circle cx="400" cy="1209" r="5"/><circle cx="432" cy="1209" r="5"/><circle cx="463" cy="1209" r="5"/></g>
    <g fill="#a030b8"><circle cx="338" cy="1120" r="5"/><circle cx="369" cy="1120" r="5"/><circle cx="400" cy="1120" r="5"/><circle cx="432" cy="1120" r="5"/><circle cx="463" cy="1120" r="5"/></g>
    <g fill="#2030c0"><circle cx="359" cy="1190" r="5"/><circle cx="390" cy="1190" r="5"/><circle cx="421" cy="1190" r="5"/><circle cx="453" cy="1190" r="5"/><circle cx="484" cy="1190" r="5"/></g>
    <line x1="433" y1="1085" x2="433" y2="1226" stroke="#000" stroke-width="1.8" stroke-dasharray="7 4"/>
    <line x1="484" y1="1085" x2="484" y2="1226" stroke="#000" stroke-width="1.8" stroke-dasharray="7 4"/>
  </g>
</g>

<!-- ================= (f) and (i) charts ================= -->
<g>
  <text x="548" y="558" font-size="22">(f)</text>
  <g id="chartF"></g>
  <g clip-path="url(#clipFin)">
    <rect x="769" y="552" width="155" height="179" fill="#f2c45a"/>
    <g fill="#5cc48c">
      <polygon points="772,604 850,557 850,646"/><polygon points="772,693 850,646 850,735"/><polygon points="772,515 850,468 850,557"/>
      <polygon points="850,646 925,600 925,689"/><polygon points="850,557 925,511 925,600"/><polygon points="850,735 925,689 925,778"/>
      <polygon points="769,552 772,604 769,693"/>
    </g>
    <g stroke="#000" stroke-width="1.3">
      <line x1="772" y1="515" x2="772" y2="782"/><line x1="850" y1="468" x2="850" y2="780"/><line x1="925" y1="511" x2="925" y2="778"/>
      <line x1="772" y1="604" x2="850" y2="557"/><line x1="772" y1="604" x2="850" y2="646"/><line x1="772" y1="693" x2="850" y2="646"/><line x1="772" y1="693" x2="850" y2="735"/><line x1="772" y1="515" x2="850" y2="557"/>
      <line x1="850" y1="557" x2="925" y2="600"/><line x1="850" y1="646" x2="925" y2="600"/><line x1="850" y1="646" x2="925" y2="689"/><line x1="850" y1="735" x2="925" y2="689"/><line x1="850" y1="557" x2="925" y2="511"/>
      <line x1="772" y1="604" x2="925" y2="689"/><line x1="772" y1="693" x2="925" y2="600"/><line x1="772" y1="515" x2="925" y2="600"/><line x1="772" y1="604" x2="925" y2="511"/><line x1="772" y1="693" x2="925" y2="778"/><line x1="772" y1="782" x2="925" y2="689"/>
    </g>
    <g stroke="#000" stroke-width="2.5" marker-end="url(#arrK)">
      <line x1="798" y1="560" x2="838" y2="557"/><line x1="798" y1="648" x2="838" y2="646"/><line x1="875" y1="600" x2="912" y2="600"/><line x1="875" y1="689" x2="912" y2="689"/>
      <line x1="820" y1="603" x2="800" y2="603"/><line x1="820" y1="692" x2="800" y2="692"/><line x1="900" y1="558" x2="862" y2="557"/><line x1="900" y1="646" x2="862" y2="646"/>
    </g>
    <g fill="#2aa050"><circle cx="795" cy="560" r="4.5"/><circle cx="873" cy="600" r="4.5"/><circle cx="795" cy="648" r="4.5"/><circle cx="873" cy="689" r="4.5"/></g>
    <g fill="#f0a820"><circle cx="824" cy="603" r="4.5"/><circle cx="900" cy="557" r="4.5"/><circle cx="824" cy="692" r="4.5"/><circle cx="902" cy="646" r="4.5"/><circle cx="903" cy="730" r="4.5"/></g>
  </g>
</g>
<g>
  <text x="548" y="948" font-size="22">(i)</text>
  <g id="chartI"></g>
  <g clip-path="url(#clipIin)">
    <rect x="775" y="927" width="154" height="159" fill="#ee6677"/>
    <g stroke="#000" stroke-width="2.2">
      <line x1="775" y1="927" x2="775" y2="1086"/>
      <line x1="775" y1="930" x2="929" y2="925"/><line x1="775" y1="1009" x2="929" y2="1005"/><line x1="775" y1="1088" x2="929" y2="1084"/>
      <line x1="775" y1="969" x2="929" y2="966"/><line x1="775" y1="1048" x2="929" y2="1044"/>
      <line x1="760" y1="900" x2="860" y2="1100"/><line x1="830" y1="900" x2="930" y2="1100"/><line x1="900" y1="900" x2="1000" y2="1100"/>
      <line x1="860" y1="900" x2="760" y2="1100"/><line x1="930" y1="900" x2="830" y2="1100"/><line x1="1000" y1="900" x2="900" y2="1100"/>
    </g>
    <g fill="#e81818"><circle cx="885" cy="931" r="4.5"/><circle cx="818" cy="971" r="4.5"/><circle cx="888" cy="1006" r="4.5"/><circle cx="822" cy="1047" r="4.5"/><circle cx="892" cy="1082" r="4.5"/></g>
  </g>
</g>

<!-- ================= (g) ================= -->
<g>
  <text x="1045" y="558" font-size="22">(g)</text>
  <g clip-path="url(#clipG)">
    <rect x="1099" y="537" width="334" height="334" fill="#3568a2"/>
    <rect x="1099" y="537" width="334" height="170" fill="#3f78b0"/>
    <rect x="1099" y="700" width="334" height="171" fill="#2a5794"/>
    <rect x="1099" y="537" width="334" height="334" filter="url(#blueNoise)"/>
    <g fill="#86c4dc" opacity="0.8">
      <polygon points="1295,548 1270,600 1325,600"/><polygon points="1215,620 1185,670 1250,670"/><polygon points="1355,625 1320,670 1390,670"/>
      <polygon points="1140,640 1105,690 1170,690"/><polygon points="1300,655 1265,700 1335,700"/><polygon points="1390,665 1355,705 1425,705"/>
      <polygon points="1170,700 1135,745 1205,745"/><polygon points="1245,690 1210,740 1280,740"/><polygon points="1345,700 1310,745 1380,745"/><polygon points="1412,710 1385,755 1433,755"/>
      <polygon points="1135,750 1100,795 1165,795"/><polygon points="1225,745 1190,790 1260,790"/><polygon points="1310,760 1275,805 1345,805"/><polygon points="1370,765 1340,810 1405,810"/>
      <polygon points="1195,800 1160,845 1230,845"/><polygon points="1265,815 1230,860 1300,860"/><polygon points="1335,820 1300,865 1370,865"/><polygon points="1400,830 1370,871 1433,871"/>
      <polygon points="1140,590 1105,620 1175,620"/><polygon points="1390,580 1360,620 1425,615"/>
    </g>
    <line x1="1099" y1="548" x2="1433" y2="548" stroke="#cfe4f0" stroke-width="1.2"/>
    <line x1="1099" y1="659" x2="1433" y2="659" stroke="#e6f0f8" stroke-width="1.5"/>
    <line x1="1109" y1="860" x2="1221" y2="860" stroke="#fff" stroke-width="2.5"/>
    <text x="1165" y="848" font-size="19" fill="#fff" text-anchor="middle">100 nm</text>
  </g>
  <rect x="1099" y="537" width="334" height="334" fill="none" stroke="#222" stroke-width="1"/>
  <g>
    <rect x="1441" y="537" width="22" height="334" fill="url(#cbBlue)" stroke="#333" stroke-width="0.8"/>
    <g font-size="18" fill="#111">
      <text x="1474" y="549">0.9</text><text x="1474" y="586">0.8</text><text x="1474" y="623">0.7</text><text x="1474" y="660">0.6</text><text x="1474" y="697">0.5</text><text x="1474" y="734">0.4</text><text x="1474" y="771">0.3</text><text x="1474" y="808">0.2</text><text x="1474" y="845">0.1</text><text x="1474" y="882">0</text>
    </g>
    <text transform="translate(1522,704) rotate(90)" font-size="20" text-anchor="middle">Current (nA)</text>
  </g>
</g>

<!-- ================= (j) ================= -->
<g>
  <text x="1045" y="952" font-size="22">(j)</text>
  <g clip-path="url(#clipJ)">
    <rect x="1099" y="913" width="334" height="335" fill="#2f5f9c"/>
    <rect x="1099" y="913" width="334" height="335" filter="url(#blueNoise)" opacity="0.5"/>
    <g fill="none" stroke="#7cc0e0" stroke-width="2.2" opacity="0.8">
      <polyline points="1100,960 1150,930 1180,920"/><polyline points="1110,1000 1180,960 1250,925"/><polyline points="1120,1040 1200,990 1290,940 1330,920"/>
      <polyline points="1150,1060 1230,1010 1330,950 1400,925"/><polyline points="1200,1075 1280,1030 1390,990 1433,980"/>
      <polyline points="1110,1130 1180,1090 1250,1060 1310,1080 1400,1030 1433,1000"/><polyline points="1200,1150 1280,1110 1360,1120 1420,1090"/>
      <polyline points="1130,1000 1160,1060 1200,1130 1240,1160 1270,1245"/><polyline points="1180,950 1210,1010 1250,1060"/>
      <polyline points="1250,1160 1330,1140 1380,1110 1420,1050"/><polyline points="1270,1245 1300,1200 1350,1180 1433,1150"/>
      <polyline points="1105,1180 1120,1240"/><polyline points="1130,1170 1150,1245"/><polyline points="1160,1175 1185,1245"/><polyline points="1190,1180 1215,1248"/>
      <polyline points="1099,1168 1200,1172"/>
    </g>
    <g fill="#0a1020" opacity="0.7">
      <circle cx="1115" cy="918" r="3"/><circle cx="1335" cy="931" r="3"/><circle cx="1200" cy="1003" r="3"/><circle cx="1249" cy="1005" r="3"/><circle cx="1172" cy="1030" r="3"/><circle cx="1199" cy="1047" r="3"/><circle cx="1153" cy="1063" r="3"/><circle cx="1261" cy="1048" r="3"/><circle cx="1392" cy="1055" r="3"/><circle cx="1178" cy="1172" r="3"/><circle cx="1219" cy="1200" r="3"/><circle cx="1400" cy="1206" r="3"/><circle cx="1420" cy="1218" r="3"/><circle cx="1425" cy="1230" r="3"/><circle cx="1330" cy="1070" r="2.5"/>
    </g>
    <line x1="1117" y1="1236" x2="1194" y2="1236" stroke="#fff" stroke-width="2.5"/>
    <text x="1164" y="1224" font-size="19" fill="#fff" text-anchor="middle">50 nm</text>
  </g>
  <rect x="1099" y="913" width="334" height="335" fill="none" stroke="#222" stroke-width="1"/>
  <g>
    <rect x="1441" y="913" width="22" height="335" fill="url(#cbBlue)" stroke="#333" stroke-width="0.8"/>
    <g font-size="18" fill="#111">
      <text x="1474" y="925">2.5</text><text x="1474" y="992">2.0</text><text x="1474" y="1059">1.5</text><text x="1474" y="1126">1.0</text><text x="1474" y="1193">0.5</text><text x="1474" y="1259">0</text>
    </g>
    <text transform="translate(1522,1080) rotate(90)" font-size="20" text-anchor="middle">Current (nA)</text>
  </g>
</g>
</svg>

<script>
// ---------- data ----------
const positions = [0,1,2,3,4,5,6,7,8,9,10,11,12];
const fValues = [-45.8773,-45.8840,-45.9080,-45.9433,-45.9589,-45.9500,-45.9420,-45.9490,-45.9585,-45.9426,-45.9080,-45.8840,-45.8773];
const iValues = [-45.8823,-45.8889,-45.9076,-45.9313,-45.9402,-45.9364,-45.9379,-45.9519,-45.9627,-45.9468,-45.9123,-45.8893,-45.8827];
const tickPositions = [0,4,8,12];
const fTickLabels = ['AABB','AB','BA','AABB'];
const iTickLabels = ['BB','AA','ABBA','BB'];
const yTickValues = [-45.87,-45.89,-45.91,-45.93,-45.95,-45.97];
const fHighlightIdx = [4,8];
const iHighlightIdx = [8];

const bDistance = [1,14,27,36,46,55,65,74,84,93,102,112,125,135,144,154,166,178,191,201,211,222,233,246,259,268,282];
const bPotential = [-425,-430.7,-428.8,-430.7,-435.4,-430.7,-433.5,-428.3,-434.5,-427.3,-434.5,-426.4,-432.6,-427.8,-424.5,-429.2,-422.1,-421.6,-416.9,-417.8,-410.7,-418.3,-412.1,-417.3,-418.3,-422.6,-417.8];
const bXTicks = [0,50,100,150,200,250,300];
const bYTicks = [-410,-420,-430,-440];
const cDistance = [0,11,22,36,49,56,68,81,91,103,115,126,135,147,154,164,174,183,193,209,218,225,234,244,253,263,272,288,300];
const cPotential = [220.8,215.5,207,211.5,208.6,205.8,213.1,206.2,209.8,209.4,210.2,221.2,221.6,220.4,215.1,221.2,224.5,220.8,222.8,222.8,228.5,227.3,227.7,219.6,222,219.6,215.5,221.2,213];
const cXTicks = [0,50,100,150,200,250,300];
const cYTicks = [230,220,210];

const NS = 'http://www.w3.org/2000/svg';
function mk(tag, attrs, parent){ const e=document.createElementNS(NS,tag); for(const k in attrs) e.setAttribute(k,attrs[k]); parent.appendChild(e); return e; }

function drawEnergyChart(gid, values, tickLabels, highlights, colors, top, bottom){
  const g = document.getElementById(gid);
  const L=674, R=1018, T=top, B=bottom;
  const xs = p => L + p*(R-L)/12;
  const ys = v => T + (-45.87 - v)/0.10*(B-T);
  const bg = mk('rect',{x:L,y:T,width:R-L,height:B-T,fill:'#fff'},g);
  
  
  yTickValues.forEach(v=>{
    const ln = mk('line',{x1:L,x2:R,y1:ys(v),y2:ys(v),stroke:'#777','stroke-width':1},g);
    
    
    const t = mk('text',{x:L-6,y:ys(v)+8,'font-size':21,'text-anchor':'end',textLength:58,lengthAdjust:'spacingAndGlyphs'},g);
    t.textContent = v.toFixed(2);
    
    
  });
  tickPositions.forEach((p,k)=>{
    const ln = mk('line',{x1:xs(p),x2:xs(p),y1:T,y2:B,stroke:'#777','stroke-width':1},g);
    
    
    const t = mk('text',{x:xs(p),y:B+32,'font-size':21,'text-anchor':'middle'},g);
    t.textContent = tickLabels[k];
    
    
  });
  const frame = mk('rect',{x:L,y:T,width:R-L,height:B-T,fill:'none',stroke:'#222','stroke-width':1.5},g);
  
  
  const pts = positions.map((p,i)=>xs(p)+','+ys(values[i])).join(' ');
  const line = mk('polyline',{points:pts,fill:'none',stroke:'#3a78b5','stroke-width':2.5},g);
  
  
  positions.forEach((p,i)=>{
    const hi = highlights.indexOf(i);
    const c = mk('circle',{cx:xs(p),cy:ys(values[i]),r: hi>=0?10:3.5,fill: hi>=0?colors[hi]:'#3a78b5'},g);
    
    
  });
  const yt = mk('text',{transform:'translate(594,'+((T+B)/2)+') rotate(-90)','font-size':22,'text-anchor':'middle',textLength:318,lengthAdjust:'spacingAndGlyphs'},g);
  yt.textContent = 'Stacking Energy (eV/unit cell)';
  
  
  const xt = mk('text',{x:(L+R)/2,y:B+56,'font-size':23,'text-anchor':'middle'},g);
  xt.textContent = 'Position';
  
  
}
drawEnergyChart('chartF', fValues, fTickLabels, fHighlightIdx, ['#2fa84f','#f0b323'], 537, 839);
drawEnergyChart('chartI', iValues, iTickLabels, iHighlightIdx, ['#e8141c'], 911, 1213);

function drawProfile(gid, box, xMap, yMap, dist, pot, xTicks, yTicks, refs, arrowX, arrowY1, arrowY2, label, labelPos){
  const g = document.getElementById(gid);
  const fr = mk('rect',{x:box[0],y:box[1],width:box[2]-box[0],height:box[3]-box[1],fill:'#fff',stroke:'#222','stroke-width':1.2},g);
  
  
  xTicks.forEach(d=>{
    const t = mk('text',{x:xMap(d),y:box[3]+12,'font-size':8,'font-weight':'bold','text-anchor':'middle'},g);
    t.textContent = d;
    
    
  });
  yTicks.forEach(v=>{
    const t = mk('text',{x:box[0]-3,y:yMap(v)+3,'font-size':8,'font-weight':'bold','text-anchor':'end'},g);
    t.textContent = v;
    
    
  });
  refs.forEach(r=>{
    const l = mk('line',{x1:xMap(r[1]),x2:xMap(r[2]),y1:yMap(r[0]),y2:yMap(r[0]),stroke:r[3],'stroke-width':1.3},g);
    
    
  });
  const a = mk('line',{x1:xMap(arrowX),x2:xMap(arrowX),y1:yMap(arrowY1),y2:yMap(arrowY2),stroke:'#555','stroke-width':0.8,'marker-end':'url(#arrK)'},g);
  
  
  const pts = dist.map((d,i)=>xMap(d)+','+yMap(pot[i])).join(' ');
  const pl = mk('polyline',{points:pts,fill:'none',stroke:'#d02030','stroke-width':1.1},g);
  
  
  const lt = mk('text',{x:labelPos[0],y:labelPos[1],'font-size':9},g);
  lt.textContent = label;
  
  
  const xt = mk('text',{x:(box[0]+box[2])/2,y:box[3]+29,'font-size':10,'font-weight':'bold','text-anchor':'middle'},g);
  xt.textContent = 'Distance (nm)';
  
  
  const yt = mk('text',{transform:'translate('+(box[0]-24)+','+((box[1]+box[3])/2)+') rotate(-90)','font-size':9,'font-weight':'bold','text-anchor':'middle'},g);
  yt.textContent = 'Potential (mV)';
  
  
}
drawProfile('plotB',[508,286,755,389], d=>515.5+d*0.797, v=>301.6+(-410-v)*2.91, bDistance, bPotential, bXTicks, bYTicks,
  [[-417,35,270,'#999'],[-432.5,22,170,'#333']], 70, -432, -418, '~15 mV', [521,341]);
drawProfile('plotC',[854,286,1101,390], d=>861.8+d*0.7687, v=>295.8+(230-v)*3.425, cDistance, cPotential, cXTicks, cYTicks,
  [[224,57,280,'#111'],[208.2,12,165,'#888']], 91, 208.5, 223.5, '~16 mV', [875,345]);
</script>
</body></html>
